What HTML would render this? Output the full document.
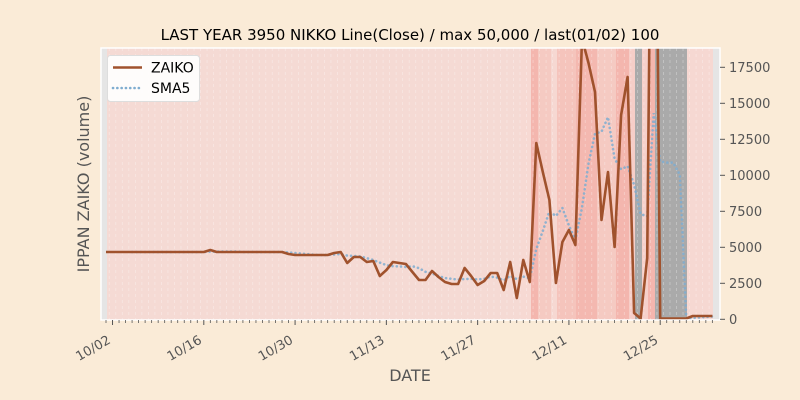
<!DOCTYPE html>
<html><head><meta charset="utf-8"><style>
html,body{margin:0;padding:0;background:#FAEBD7;}
svg{display:block;font-family:"DejaVu Sans","Liberation Sans",sans-serif;}
</style></head><body>
<svg id="s" width="800" height="400" xmlns="http://www.w3.org/2000/svg"></svg>
<script>
const s=document.getElementById('s');
let h='';
const X=i=>106+6.52*i, Y=v=>319.3-v*0.0144;
h+='<rect x="101" y="48" width="619" height="272" fill="#e5e5e5"/>';
h+='<rect x="107" y="48" width="413" height="272" fill="#f5dad4"/>';
const st=[[520,531,'#f7d9d3'],[531,538,'#f4b6ae'],[538,551,'#f5cac2'],[551,557,'#f6d8d2'],[557,576,'#f5c4bc'],[576,597,'#f4b8b0'],[597,616,'#f5cac2'],[616,629,'#f4b6ae'],[629,635,'#f6cec8'],[635,642,'#aaaaaa'],[642,648,'#f6d0ca'],[648,655,'#f4b6ae'],[655,687,'#aaaaaa'],[687,713,'#f6d8d2']];
st.forEach(a=>h+=`<rect x="${a[0]}" y="48" width="${a[1]-a[0]}" height="272" fill="${a[2]}"/>`);
for(let i=0;i<94;i++){const x=X(i)+3.26;if(x>713)break;h+=`<line x1="${x}" y1="48" x2="${x}" y2="320" stroke="#fff" stroke-opacity="0.35" stroke-width="0.8" stroke-dasharray="3,3"/>`;}
const yp={};
for(let i=0;i<=27;i++)yp[i]=252; yp[16]=250; yp[28]=254;
for(let i=29;i<=33;i++)yp[i]=255;
Object.assign(yp,{34:255,35:253,36:252,37:263,38:257,39:257,40:262,41:261,42:276,43:270,44:262,45:263,46:264,47:272,48:280,49:280,50:271,51:277,52:282,53:284,54:284,55:268,56:276,57:285,58:281,59:273,60:273,61:290,62:262,63:298,64:260,65:282});
const v=[];for(let i=0;i<66;i++)v[i]=(319.3-yp[i])/0.0144;
const rest={66:143,67:172,68:200,69:283,70:242,71:230,72:245,75:92,76:220,77:172,78:247,79:115,80:77,81:313,82:318.5,83:258,85:318.5,86:318.5,87:318.5,88:318.5,89:318.5,90:316,91:316,92:316,93:316};
for(const k in rest)v[+k]=(319.3-rest[k])/0.0144;
v[73]=19500;v[74]=17800;v[84]=50000;
let sma='',z='';
for(let i=0;i<94;i++){z+=(i?'L':'M')+X(i).toFixed(1)+','+Y(v[i]).toFixed(1);
 if(i>=4){let m=0;for(let j=i-4;j<=i;j++)m+=v[j];m/=5;sma+=(i>4?'L':'M')+X(i).toFixed(1)+','+Y(m).toFixed(1);}}
h+='<clipPath id="c"><rect x="101" y="48" width="619" height="272"/></clipPath>';
h+=`<g clip-path="url(#c)"><path d="${sma}" fill="none" stroke="#7fadd0" stroke-opacity="0.85" stroke-width="2.6" stroke-dasharray="0.1,4.2" stroke-linecap="round"/><path d="${z}" fill="none" stroke="#a0522d" stroke-width="2.6" stroke-linejoin="round"/></g>`;
h+='<rect x="101" y="48" width="619" height="272" fill="none" stroke="#fff" stroke-width="1.5"/>';
for(let i=0;i<94;i++){const x=X(i);if(x>719)break;const maj=(i-1)%14==0&&i>0;h+=`<line x1="${x}" y1="320" x2="${x}" y2="${maj?325:323}" stroke="#555" stroke-width="${maj?1:0.8}"/>`;}
['10/02','10/16','10/30','11/13','11/27','12/11','12/25'].forEach((t,k)=>{const x=X(1+14*k);h+=`<text transform="translate(${x-6},${334}) rotate(-30)" text-anchor="end" font-size="13" fill="#555" dy="0.75em">${t}</text>`;});
for(let k=0;k<=7;k++){const y=Y(k*2500);h+=`<line x1="720" y1="${y}" x2="725" y2="${y}" stroke="#555"/><text x="729" y="${y+4.5}" font-size="13" fill="#555">${k*2500}</text>`;}
h+='<text x="410" y="40" text-anchor="middle" font-size="15" fill="#000">LAST YEAR 3950 NIKKO Line(Close) / max 50,000 / last(01/02) 100</text>';
h+='<text x="410" y="381" text-anchor="middle" font-size="16" fill="#555">DATE</text>';
h+='<text transform="translate(89,184) rotate(-90)" text-anchor="middle" font-size="16" fill="#555">IPPAN ZAIKO (volume)</text>';
h+='<rect x="107.5" y="55.5" width="92" height="46" rx="3" fill="#fff" fill-opacity="0.9" stroke="#ddd"/>';
h+='<line x1="113" y1="67.5" x2="142" y2="67.5" stroke="#a0522d" stroke-width="2.6"/><text x="151" y="72.5" font-size="14" fill="#000">ZAIKO</text>';
h+='<line x1="113" y1="88" x2="142" y2="88" stroke="#7fadd0" stroke-width="2.6" stroke-dasharray="0.1,4.2" stroke-linecap="round"/><text x="151" y="93" font-size="14" fill="#000">SMA5</text>';
s.innerHTML=h;
</script>
</body></html>
